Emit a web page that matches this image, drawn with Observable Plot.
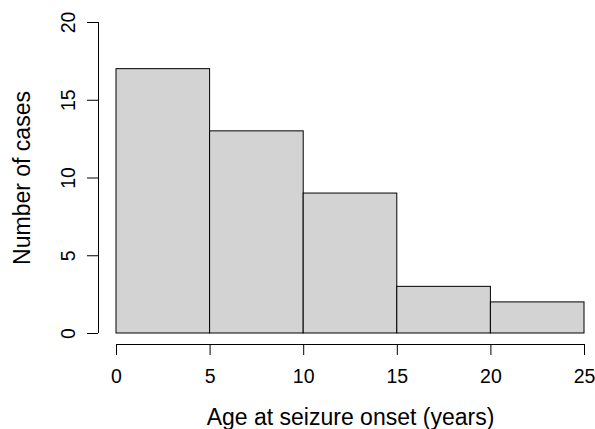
<!DOCTYPE html>
<html>
<head>
<meta charset="utf-8">
<script src="https://cdn.jsdelivr.net/npm/d3@7"></script>
<script src="https://cdn.jsdelivr.net/npm/@observablehq/plot@0.6"></script>
<style>
  html, body { margin: 0; padding: 0; background: #fff; }
  svg { display: block; }
</style>
</head>
<body>
<div id="chart"></div>
<script>
const binStart = [0, 5, 10, 15, 20];
const binEnd = [5, 10, 15, 20, 25];
const counts = [17, 13, 9, 3, 2];
const xTicks = [0, 5, 10, 15, 20, 25];
const yTicks = [0, 5, 10, 15, 20];
const xTitle = "Age at seizure onset (years)";
const yTitle = "Number of cases";

const bins = binStart.map((s, i) => ({x1: s, x2: binEnd[i], y: counts[i]}));

const chart = Plot.plot({
  width: 595,
  height: 429,
  marginLeft: 116,
  marginRight: 11,
  marginTop: 22,
  marginBottom: 96,
  style: {fontFamily: "'Liberation Sans', Arial, sans-serif", color: "#000", background: "#fff"},
  x: {domain: [0, 25]},
  y: {domain: [0, 20]},
  marks: [
    Plot.rectY(bins, {x1: "x1", x2: "x2", y: "y", fill: "#d3d3d3", stroke: "#000", strokeWidth: 1, inset: 0}),
    Plot.ruleX([0], {y1: 0, y2: 20, dx: -18, stroke: "#000"}),
    Plot.axisY({ticks: yTicks, tickSize: 11, dx: -18, tickRotate: -90, tickPadding: 13, fontSize: 19.5, label: null, stroke: "#000"}),
    Plot.ruleY([0], {x1: 0, x2: 25, dy: 11, stroke: "#000"}),
    Plot.axisX({ticks: xTicks, tickSize: 11, dy: 11, tickPadding: 14, fontSize: 19.5, label: null, stroke: "#000"}),
    Plot.text([xTitle], {text: d => d, frameAnchor: "bottom", lineAnchor: "middle", textAnchor: "middle", dy: 84, fontSize: 23, fill: "#000"}),
    Plot.text([yTitle], {text: d => d, frameAnchor: "left", lineAnchor: "middle", textAnchor: "middle", rotate: -90, dx: -94, fontSize: 23, fill: "#000"})
  ]
});
document.getElementById("chart").appendChild(chart);
</script>
</body>
</html>
